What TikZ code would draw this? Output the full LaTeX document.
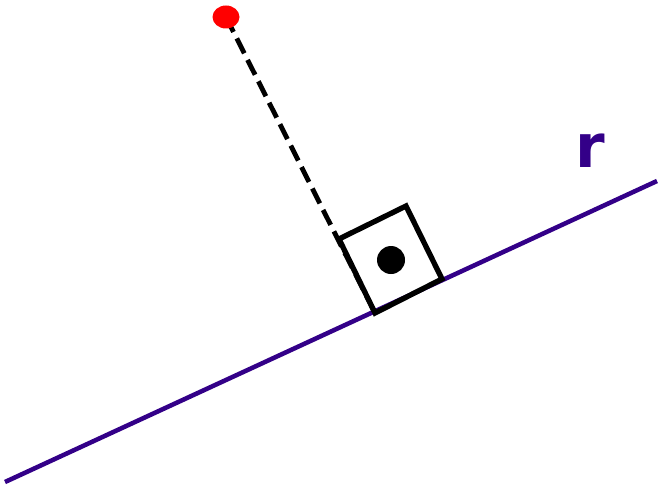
\documentclass[tikz,border=0pt]{standalone}
\usepackage{fontspec}
\usepackage{xcolor}
\newfontfamily\labelfont{DejaVu Sans}
\definecolor{linecol}{RGB}{51,0,136}
\tikzset{
  lineR/.style={draw=linecol, line width=3.4pt},
  perpline/.style={draw=black, line width=3.6pt, dash pattern=on 12.5pt off 5.5pt},
  rightangle/.style={draw=black, line width=4pt, line join=miter},
}

\begin{document}
\begin{tikzpicture}[x=0.75pt,y=0.75pt,yscale=-1,xscale=1]
\useasboundingbox (0,0) rectangle (659,485);

%Points
\coordinate (lineStart) at (5,482);
\coordinate (lineEnd) at (657,181);
\coordinate (pt) at (226,17);
\coordinate (foot) at (375,313);
\coordinate (sqB) at (442,279);
\coordinate (sqC) at (406,206);
\coordinate (sqD) at (339,239);

%Straight Lines: line r
\draw [lineR] (lineStart) -- (lineEnd) ;
%Straight Lines: dashed perpendicular
\draw [perpline] (pt) -- (foot) ;
%Shape: right angle square
\draw [rightangle] (foot) -- (sqB) -- (sqC) -- (sqD) -- cycle ;
%Shape: Circle (dot)
\fill [black] (391,260) circle [radius=14] ;
%Shape: Ellipse (point)
\fill [red] (pt) ellipse [x radius=13.5, y radius=11.5] ;

% Text Node
\node (labelR) [text=linecol, inner sep=0pt] at (590,151) {\labelfont\bfseries\fontsize{45}{48}\selectfont r};

\end{tikzpicture}
\end{document}
